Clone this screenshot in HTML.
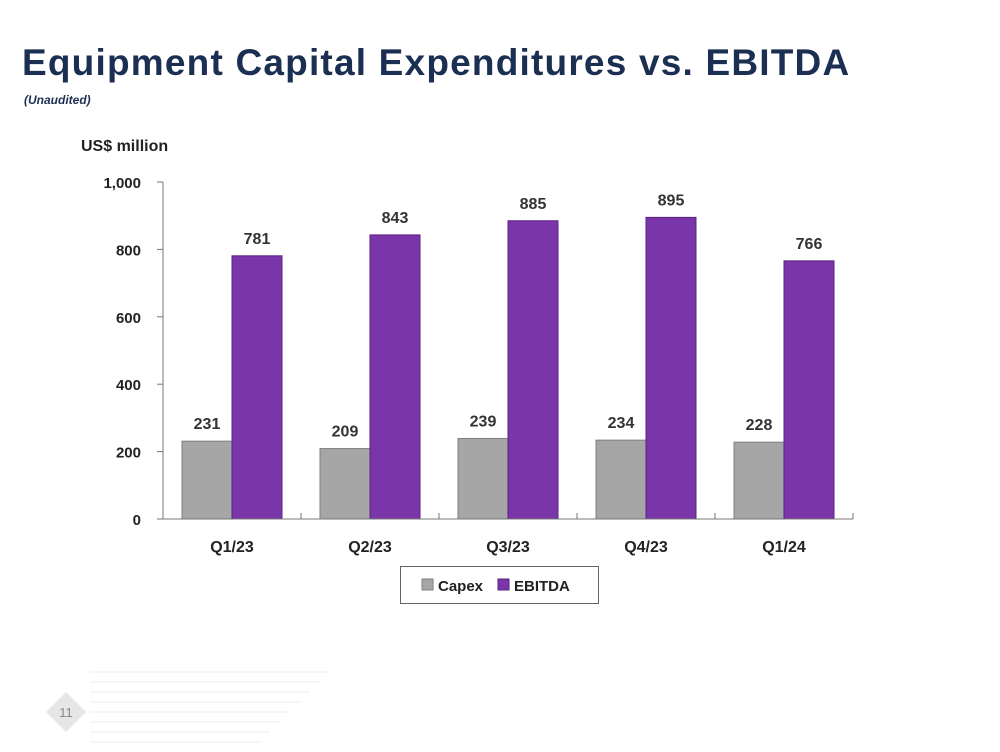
<!DOCTYPE html>
<html><head><meta charset="utf-8"><style>
body{margin:0;width:1000px;height:752px;background:#fff;overflow:hidden;font-family:"Liberation Sans",sans-serif;position:relative}
#title{position:absolute;left:22px;top:42px;font-size:37px;font-weight:bold;color:#1b2f52;letter-spacing:1.2px}
#sub{position:absolute;left:24px;top:93px;font-size:12px;font-weight:bold;font-style:italic;color:#1b2f52}
svg{position:absolute;left:0;top:0}
</style></head><body>
<div id="title">Equipment Capital Expenditures vs. EBITDA</div>
<div id="sub">(Unaudited)</div>
<svg id="c" width="1000" height="752"></svg>
<script>
const categories=["Q1/23","Q2/23","Q3/23","Q4/23","Q1/24"];
const capex=[231,209,239,234,228];
const ebitda=[781,843,885,895,766];
const yTicks=[0,200,400,600,800,1000];
const yTickLabels=["0","200","400","600","800","1,000"];
const NS="http://www.w3.org/2000/svg";
const svg=document.getElementById('c');
const x0=163,x1=853,yTop=182,yBot=519,yMax=1000;
const bw=(x1-x0)/categories.length;
const y=v=>yBot-(v/yMax)*(yBot-yTop);
function el(t,a,txt){const e=document.createElementNS(NS,t);for(const k in a)e.setAttribute(k,a[k]);if(txt!==undefined)e.textContent=txt;svg.appendChild(e);return e;}
let t=el('text',{x:81,y:151,'font-size':16,'font-weight':'bold',fill:'#222'},'US$ million');


yTicks.forEach((v,i)=>{
 let l=el('line',{x1:x0-6,x2:x0,y1:y(v),y2:y(v),stroke:'#777'});
 
 
 let tx=el('text',{x:x0-22,y:y(v)+6,'text-anchor':'end','font-size':15,'font-weight':'bold',fill:'#222'},yTickLabels[i]);
 
 
});
categories.forEach((c,i)=>{
 const cx=x0+bw*(i+0.5);
 let r1=el('rect',{x:cx-50,y:y(capex[i]),width:50,height:yBot-y(capex[i]),fill:'#a6a6a6',stroke:'#7f7f7f','stroke-width':1});
 
 
 let r2=el('rect',{x:cx,y:y(ebitda[i]),width:50,height:yBot-y(ebitda[i]),fill:'#7a36a8',stroke:'#5a2280','stroke-width':1});
 
 
 let l1=el('text',{x:cx-25,y:y(capex[i])-12,'text-anchor':'middle','font-size':16,'font-weight':'bold',fill:'#333'},String(capex[i]));
 
 
 let l2=el('text',{x:cx+25,y:y(ebitda[i])-12,'text-anchor':'middle','font-size':16,'font-weight':'bold',fill:'#333'},String(ebitda[i]));
 
 
 let cl=el('text',{x:cx,y:552,'text-anchor':'middle','font-size':16,'font-weight':'bold',fill:'#222'},c);
 
 
 let tk=el('line',{x1:x0+bw*(i+1),x2:x0+bw*(i+1),y1:yBot-6,y2:yBot,stroke:'#777'});
 
 
});
let ax=el('line',{x1:x0,x2:x0,y1:yTop,y2:yBot,stroke:'#777'});


let bx=el('line',{x1:x0,x2:x1,y1:yBot,y2:yBot,stroke:'#777'});


let lg=el('rect',{x:400.5,y:566.5,width:198,height:37,fill:'#fff',stroke:'#666'});


let s1=el('rect',{x:422,y:579,width:11,height:11,fill:'#a6a6a6',stroke:'#7f7f7f'});


let e1=el('text',{x:438,y:591,'font-size':15,'font-weight':'bold',fill:'#222'},'Capex');


let s2=el('rect',{x:498,y:579,width:11,height:11,fill:'#7a36a8',stroke:'#5a2280'});


let e2=el('text',{x:514,y:591,'font-size':15,'font-weight':'bold',fill:'#222'},'EBITDA');


[672,682,692,702,712,722,732,742].forEach((yy,i)=>{
 let d=el('line',{x1:90,x2:330-i*10,y1:yy,y2:yy,stroke:'#ececec','stroke-width':1});
 
 
});
let dm=el('polygon',{points:'66,692 86,712 66,732 46,712',fill:'#e6e6e6'});


let pn=el('text',{x:66,y:717,'text-anchor':'middle','font-size':13,fill:'#888'},'11');


</script>
</body></html>
